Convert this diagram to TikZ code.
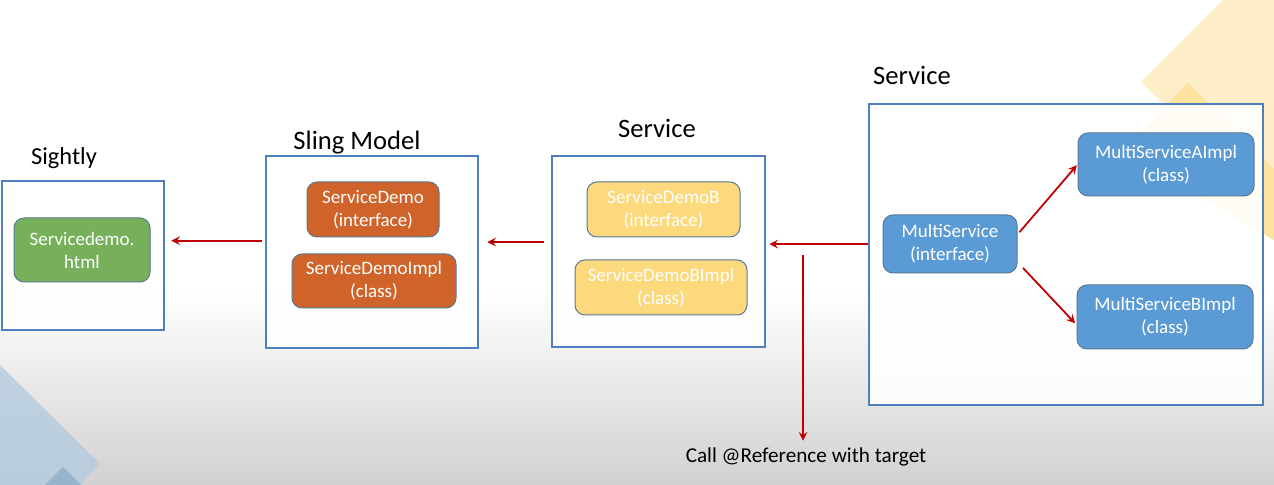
\documentclass[tikz,border=0pt]{standalone}
\usepackage{fontspec}
\setmainfont{Carlito}
\usepackage{tikz}

\definecolor{framec}{HTML}{4F7EC1}
\definecolor{greenc}{HTML}{77B05A}
\definecolor{orangec}{HTML}{D0632A}
\definecolor{yellowc}{HTML}{FDD97E}
\definecolor{bluec}{HTML}{5B9BD5}
\definecolor{borderc}{HTML}{5A7896}
\definecolor{redc}{HTML}{C00000}
\definecolor{ylight}{HTML}{FEEFC8}
\definecolor{ydark}{HTML}{FDE2A0}
\definecolor{blight}{HTML}{C0D2E1}
\definecolor{bdark}{HTML}{97B4CB}

\begin{document}
\begin{tikzpicture}
  [x=0.5pt,y=-0.5pt,>=stealth,
   frame_style/.style={draw=framec,line width=1.3pt,fill=white,fill opacity=0.9,inner sep=0pt},
   title_style/.style={font=\fontsize{13.3}{15}\selectfont,inner sep=1pt},
   class_style/.style={draw=borderc,line width=0.5pt,rounded corners=5pt,text=white,align=center,inner sep=0pt,font=\fontsize{9.5}{11.5}\selectfont},
   edge_style/.style={->,draw=redc,line width=0.9pt}]
  \useasboundingbox (0,0) rectangle (1274,485);
  % background
  \fill[white] (0,0) rectangle (1274,485);
  \shade[top color=white,bottom color=black!18] (0,290) rectangle (1274,485);
  \fill[ylight] (1223,0) -- (1274,0) -- (1274,213) -- (1141,82) -- cycle;
  \fill[ydark] (1188,83) -- (1274,169) -- (1274,240) -- (1120,151) -- cycle;
  \shade[top color=blight,bottom color=blight!80!bdark] (0,365) -- (100,464) -- (79,485) -- (0,485) -- cycle;
  \fill[bdark] (63,467) -- (81,485) -- (45,485) -- cycle;

  % frames
  \node[frame_style,minimum width=81pt,minimum height=74.5pt] (f1) at (83,255.5) {};
  \node[frame_style,minimum width=106pt,minimum height=96pt] (f2) at (372,252) {};
  \node[frame_style,minimum width=106.5pt,minimum height=95.5pt] (f3) at (658.5,251.5) {};
  \node[frame_style,minimum width=197pt,minimum height=150.5pt] (f4) at (1066,254.5) {};

  \node[title_style,font=\fontsize{12.2}{14}\selectfont] (t1) at (64,158) {Sightly};
  \node[title_style] (t2) at (357,143) {Sling Model};
  \node[title_style] (t3) at (657,128) {Service};
  \node[title_style] (t4) at (912,75) {Service};
  \node[font=\fontsize{10.6}{12}\selectfont] (t5) at (806,457) {Call @Reference with target};

  % classes
  \node[class_style,fill=greenc,minimum width=68pt,minimum height=32pt] (n1) at (82,250) {Servicedemo.\\html};
  \node[class_style,fill=orangec,minimum width=66pt,minimum height=27.5pt] (n2) at (373,209.5) {ServiceDemo\\(interface)};
  \node[class_style,fill=orangec,minimum width=82pt,minimum height=27pt] (n3) at (374,281) {ServiceDemoImpl\\(class)};
  \node[class_style,fill=yellowc,minimum width=76.5pt,minimum height=27.5pt] (n4) at (663.5,209.5) {ServiceDemoB\\(interface)};
  \node[class_style,fill=yellowc,minimum width=86pt,minimum height=27.5pt] (n5) at (661,287.5) {ServiceDemoBImpl\\(class)};
  \node[class_style,fill=bluec,minimum width=67pt,minimum height=29pt] (n6) at (950,244) {MultiService\\(interface)};
  \node[class_style,fill=bluec,minimum width=88pt,minimum height=31.5pt] (n7) at (1166,164.5) {MultiServiceAImpl\\(class)};
  \node[class_style,fill=bluec,minimum width=88pt,minimum height=32pt] (n8) at (1165,317) {MultiServiceBImpl\\(class)};

  % calls
  \coordinate (tap) at (803,255);
  \draw[edge_style,shorten <=1.5pt,shorten >=3pt] (f2.174) -- (f2.174 -| f1.east);
  \draw[edge_style,shorten <=3.5pt,shorten >=4pt] (f3.175) -- (f3.175 -| f2.east);
  \draw[edge_style,shorten >=1.5pt] (f4.177) -- (f4.177 -| f3.east);
  \draw[edge_style] (tap) -- (tap |- t5.north);
  \draw[edge_style,shorten <=1.5pt,shorten >=0.5pt] (n6.8) -- (n7.west);
  \draw[edge_style,shorten <=4pt,shorten >=1pt] (n6.-15) -- (n8.185);
\end{tikzpicture}
\end{document}
